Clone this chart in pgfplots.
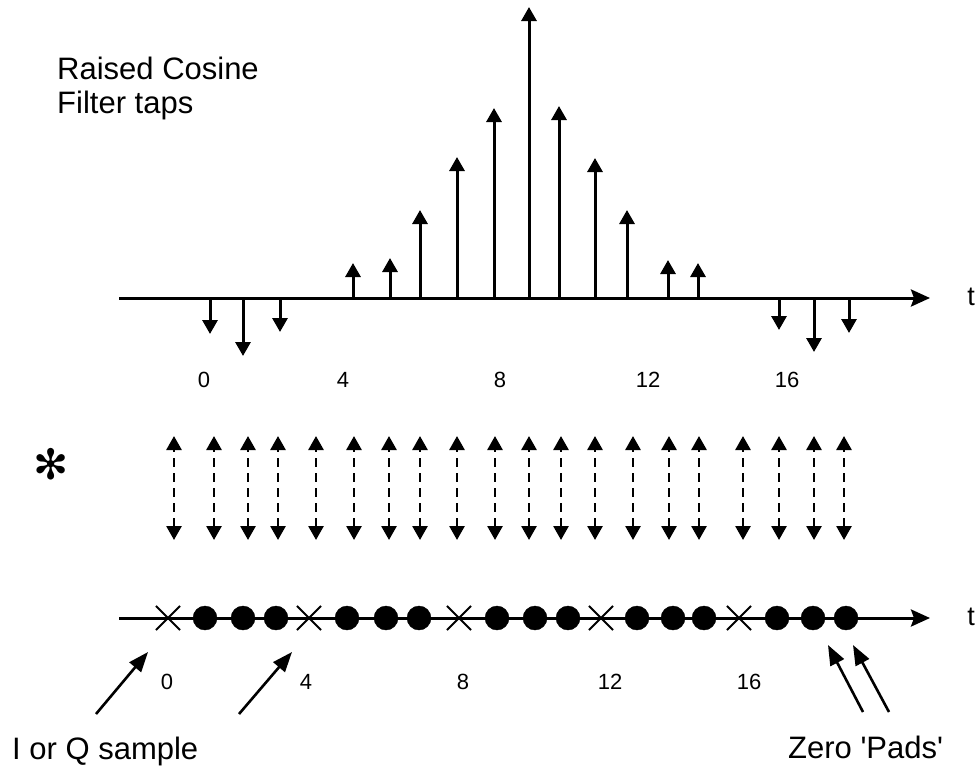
\documentclass[border=0pt]{standalone}
\usepackage{fontspec}
\setmainfont{Liberation Sans}
\newfontfamily\dingfont{DejaVu Sans}
\usepackage{pgfplots}
\pgfplotsset{compat=1.18}
\usepackage{pgfplotstable}
\usetikzlibrary{arrows.meta}

% filter taps: x position, axis line, tip of the arrow
\pgfplotstableread{
x   y   v
210 298 36
243 298 58
280 298 34
353 298 -35
390 298 -40
420 298 -88
457 298 -141
494 298 -190
529 298 -291
559 298 -192
595 298 -140
627 298 -88
668 298 -38
698 298 -35
779 298 32
814 298 54
849 298 35
}\taps

% convolution arrows (dashed, both ends)
\pgfplotstableread{
x   y   v
174 540 -104
214 540 -104
248 540 -104
278 540 -104
316 540 -104
354 540 -104
389 540 -104
420 540 -104
457 540 -104
495 540 -104
529 540 -104
561 540 -104
595 540 -104
633 540 -104
669 540 -104
699 540 -104
743 540 -104
779 540 -104
814 540 -104
844 540 -104
}\conv

\tikzset{
  tap/.style={black, line width=3pt, -{Triangle[length=14pt,width=15pt]}},
  taxis/.style={black, line width=3pt, -{Stealth[length=19pt,width=17pt,inset=3pt]}},
  note/.style={black, line width=2.6pt, -{Triangle[length=20pt,width=15pt]}},
  big/.style={font=\fontsize{31}{34}\selectfont, anchor=base west, inner sep=0pt},
  num/.style={font=\fontsize{22}{24}\selectfont},
}

\begin{document}
\begin{tikzpicture}
\begin{axis}[
    scale only axis,
    width=980pt, height=772pt,
    xmin=0, xmax=980, ymin=0, ymax=772,
    y dir=reverse,
    hide axis,
    clip=false,
]
\addplot[draw=none] coordinates {(0,0) (980,772)};

% top: raised cosine taps
\addplot[taxis] coordinates {(119,298) (930,298)};
\addplot[tap, quiver={u=0, v=\thisrow{v}}] table[x=x, y=y] {\taps};

% middle: dashed double arrows
\addplot[black, line width=2.7pt, dash pattern=on 9pt off 6pt,
    {Triangle[length=14pt,width=15pt]}-{Triangle[length=14pt,width=15pt]},
    quiver={u=0, v=\thisrow{v}}] table[x=x, y=y] {\conv};

% bottom: samples and zero pads
\addplot[taxis] coordinates {(119,618) (930,618)};
\addplot[only marks, mark=x, mark size=17pt, black, line width=2pt]
    coordinates {(168,618) (309,618) (459,618) (601,618) (739,618)};
\addplot[only marks, mark=*, mark size=12pt, black]
    coordinates {(205,618) (243,618) (276,618) (347,618) (386,618) (419,618)
                 (497,618) (535,618) (568,618) (637,618) (673,618) (704,618)
                 (777,618) (813,618) (846,618)};

% pointers
\addplot[note] coordinates {(96,714) (148,652)};
\addplot[note] coordinates {(239,714) (292,652)};
\addplot[note] coordinates {(863,712) (828,645)};
\addplot[note] coordinates {(889,712) (853,645)};

% texts
\node[big] at (axis cs:57,79) {Raised Cosine};
\node[big] at (axis cs:57,113) {Filter taps};
\node[big] at (axis cs:12,759) {I or Q sample};
\node[big] at (axis cs:788,758) {Zero \textquotesingle Pads\textquotesingle};

\node[num] at (axis cs:204,380) {0};
\node[num] at (axis cs:343,380) {4};
\node[num] at (axis cs:500,380) {8};
\node[num] at (axis cs:648,380) {12};
\node[num] at (axis cs:787,380) {16};
\node[num] at (axis cs:167,682) {0};
\node[num] at (axis cs:306,682) {4};
\node[num] at (axis cs:463,682) {8};
\node[num] at (axis cs:610,682) {12};
\node[num] at (axis cs:749,682) {16};

\node[font=\fontsize{27}{29}\selectfont] at (axis cs:971,297) {t};
\node[font=\fontsize{27}{29}\selectfont] at (axis cs:971,617) {t};
\node[font=\dingfont\fontsize{42}{44}\selectfont] at (axis cs:51,464) {✻};
\end{axis}
\end{tikzpicture}
\end{document}
